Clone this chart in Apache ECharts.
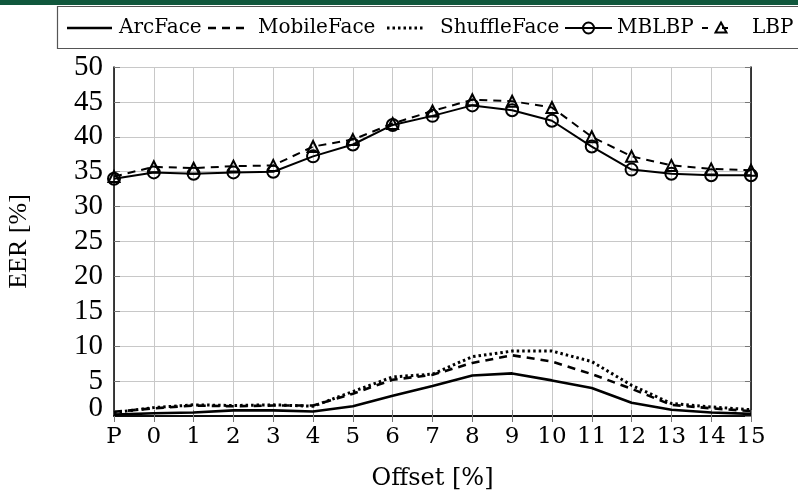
<!DOCTYPE html>
<html><head><meta charset="utf-8">
<script src="https://cdn.jsdelivr.net/npm/echarts@6/dist/echarts.min.js"></script>
<style>html,body{margin:0;padding:0;background:#fff}#c{width:798px;height:491px}</style>
</head><body><div id="c"></div>
<script>
const categories = ['P','0','1','2','3','4','5','6','7','8','9','10','11','12','13','14','15'];
const yTicks = [0,5,10,15,20,25,30,35,40,45,50];
const seriesNames = ['ArcFace','MobileFace','ShuffleFace','MBLBP','LBP'];
const arcFace     = [0.2,0.4,0.5,0.8,0.8,0.65,1.4,2.9,4.3,5.8,6.1,5.1,4.0,1.9,0.9,0.5,0.3];
const mobileFace  = [0.6,1.1,1.5,1.4,1.5,1.5,3.2,5.2,5.9,7.6,8.7,7.8,6.0,3.9,1.6,1.1,0.7];
const shuffleFace = [0.5,1.2,1.6,1.5,1.6,1.4,3.5,5.6,6.0,8.5,9.3,9.3,7.8,4.4,1.8,1.3,0.9];
const mblbp       = [34.0,34.9,34.7,34.9,35.0,37.2,38.9,41.7,43.0,44.5,43.8,42.3,38.6,35.3,34.7,34.5,34.5];
const lbp         = [34.3,35.7,35.5,35.8,35.9,38.6,39.6,41.9,43.7,45.3,45.1,44.2,40.0,37.2,35.9,35.4,35.2];

const chart = echarts.init(document.getElementById('c'), null, {renderer:'canvas'});
const serifA = 'DejaVu Serif';
const serifB = 'Liberation Serif';
const tickStyle = {show:true, inside:true, length:6, lineStyle:{color:'#777', width:1}};
const gridLine = {show:true, lineStyle:{color:'#c8c8c8', width:1}};
const dashA = [8,6], dotA = [2.5,3];
function lineSeries(name, data, type, width, symbol){
  const s = {
    name, type:'line', data,
    lineStyle:{color:'#000', width, type},
    itemStyle:{color:'#000'},
    symbol: symbol || 'none', showSymbol: !!symbol,
    animation:false, z:3
  };
  if (symbol){
    s.symbolSize = symbol==='triangle' ? 11 : 12;
    s.itemStyle = {color:'rgba(0,0,0,0)', borderColor:'#000', borderWidth:2};
  }
  return s;
}
// hand-made legend (key glyphs + labels)
const LY = 28;
function seg(x1,x2,w,dash){return {type:'line', shape:{x1,y1:LY,x2,y2:LY}, style:{stroke:'#000', lineWidth:w, lineDash:dash||null}};}
function lab(x,t){return {type:'text', x, y:LY, style:{text:t, fill:'#000', font:'20px "DejaVu Serif"', verticalAlign:'middle', align:'left'}};}
const legendGraphics = [
  seg(67,112,2.6), lab(119,seriesNames[0]),
  seg(208,250,2.6,dashA), lab(258,seriesNames[1]),
  seg(387,423,3,dotA), lab(440,seriesNames[2]),
  seg(565,612,2), {type:'circle', shape:{cx:588.5,cy:LY,r:5.5}, style:{fill:'none', stroke:'#000', lineWidth:2}}, lab(617,seriesNames[3]),
  seg(702,741,2,[6,14]), {type:'polygon', shape:{points:[[721,LY-5.5],[726.5,LY+4.5],[715.5,LY+4.5]]}, style:{fill:'none', stroke:'#000', lineWidth:2}}, lab(752,seriesNames[4])
];
const yLabelFont = {fontFamily:serifB, fontSize:29, color:'#000', margin:11, lineHeight:16};
chart.setOption({
  backgroundColor:'#fff',
  animation:false,
  graphic:[
    {type:'rect', shape:{x:0,y:0,width:798,height:5}, style:{fill:'#10573c'}},
    {type:'rect', shape:{x:57.5,y:6.5,width:745,height:42}, style:{fill:'none', stroke:'#555', lineWidth:1.2}}
  ].concat(legendGraphics),
  grid:{left:114, right:47, top:67, bottom:75, containLabel:false, outerBoundsMode:'none'},
  xAxis:[{
    type:'category', data:categories, boundaryGap:false,
    axisLine:{show:true, lineStyle:{color:'#000', width:1.5}},
    axisTick:Object.assign({alignWithLabel:true}, tickStyle),
    splitLine:gridLine,
    axisLabel:{fontFamily:serifA, fontSize:23, color:'#000', margin:10, interval:0},
    name:'Offset [%]', nameLocation:'middle', nameGap:51,
    nameTextStyle:{fontFamily:serifA, fontSize:24, color:'#000'}
  },{
    type:'category', data:categories, boundaryGap:false, position:'top',
    axisLine:{show:true, lineStyle:{color:'#000', width:1.5}},
    axisTick:Object.assign({alignWithLabel:true}, tickStyle),
    axisLabel:{show:false}, splitLine:{show:false}
  }],
  yAxis:[{
    type:'value', min:0, max:50, interval:5,
    axisLine:{show:true, lineStyle:{color:'#000', width:1.5}},
    axisTick:tickStyle, splitLine:gridLine,
    axisLabel:Object.assign({showMinLabel:false, showMaxLabel:true}, yLabelFont),
    name:'EER [%]', nameLocation:'middle', nameGap:82,
    nameTextStyle:{fontFamily:serifB, fontSize:26, color:'#000'}
  },{
    type:'value', min:0, max:50, interval:5, position:'right',
    axisLine:{show:true, lineStyle:{color:'#000', width:1.5}},
    axisTick:tickStyle, axisLabel:{show:false}, splitLine:{show:false}
  },{
    type:'value', min:0, max:50, interval:5, position:'left',
    axisLine:{show:false}, axisTick:{show:false}, splitLine:{show:false},
    axisLabel:Object.assign({showMinLabel:true, verticalAlignMinLabel:'bottom',
      formatter:v=> v===yTicks[0] ? String(v) : ''}, yLabelFont)
  }],
  series:[
    lineSeries(seriesNames[0], arcFace, 'solid', 2.6),
    lineSeries(seriesNames[1], mobileFace, dashA, 2.6),
    lineSeries(seriesNames[2], shuffleFace, dotA, 3),
    lineSeries(seriesNames[3], mblbp, 'solid', 2, 'circle'),
    lineSeries(seriesNames[4], lbp, dashA, 2, 'triangle')
  ]
});
</script></body></html>
